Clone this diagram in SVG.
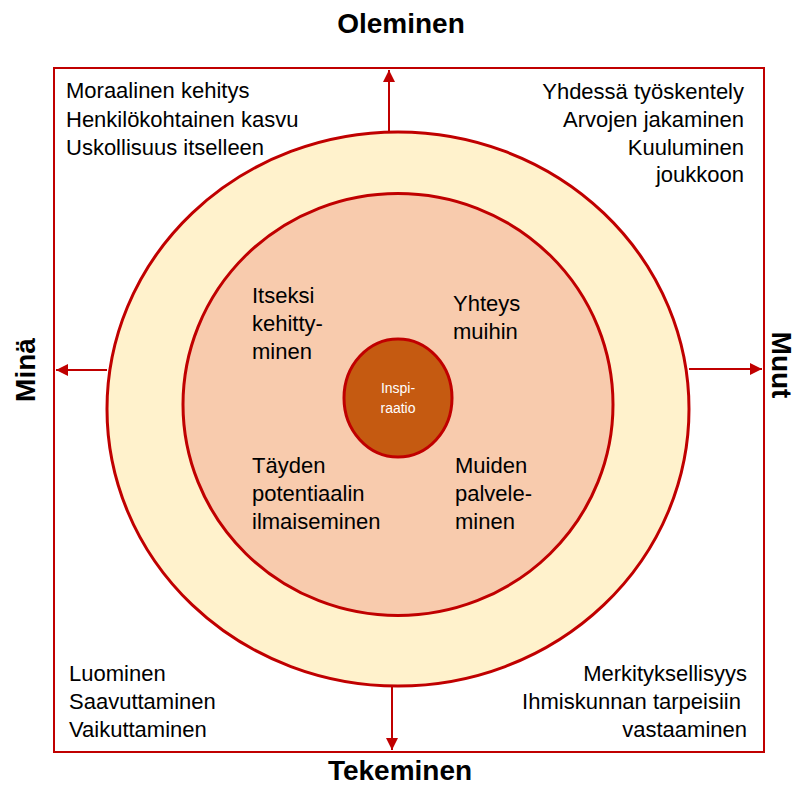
<svg xmlns="http://www.w3.org/2000/svg" width="798" height="787" viewBox="0 0 798 787">
<defs>
<style>
.t{font-family:"Liberation Sans",Arial,sans-serif;font-size:22px;fill:#000}
.h{font-family:"Liberation Sans",Arial,sans-serif;font-size:28px;font-weight:bold;fill:#000}
.e{text-anchor:end}
.ln{stroke:#C00000;stroke-width:2;fill:none}
.ring{stroke:#C00000;stroke-width:3}
</style>
<marker id="ah" viewBox="0 0 10 10" refX="10" refY="5" markerWidth="6" markerHeight="6" orient="auto" markerUnits="strokeWidth">
<path d="M0,0 L10,5 L0,10 z" fill="#C00000"/>
</marker>
</defs>
<rect width="798" height="787" fill="#fff"/>
<g id="frame"><rect x="54" y="68" width="710" height="684" class="ln"/></g>
<g id="outer"><ellipse cx="398" cy="409" rx="291" ry="277" fill="#FFF2CC" class="ring"/></g>
<g id="inner"><ellipse cx="398" cy="404.5" rx="215" ry="211" fill="#F8CBAD" class="ring"/></g>
<g id="center"><ellipse cx="398" cy="398" rx="54" ry="59" fill="#C55A11" class="ring"/>
<text x="398" y="393" text-anchor="middle" style="font-family:'Liberation Sans',Arial,sans-serif;font-size:14px;fill:#fff">Inspi-</text>
<text x="398" y="413" text-anchor="middle" style="font-family:'Liberation Sans',Arial,sans-serif;font-size:14px;fill:#fff">raatio</text></g>
<g id="connectors">
<line x1="389" y1="132" x2="389" y2="70" class="ln" marker-end="url(#ah)"/>
<line x1="392" y1="686" x2="392" y2="750" class="ln" marker-end="url(#ah)"/>
<line x1="107" y1="370" x2="56" y2="370" class="ln" marker-end="url(#ah)"/>
<line x1="689" y1="369" x2="762" y2="369" class="ln" marker-end="url(#ah)"/>
</g>
<g id="titles">
<text x="401" y="33" text-anchor="middle" class="h">Oleminen</text>
<text x="400" y="780" text-anchor="middle" class="h">Tekeminen</text>
<text transform="translate(35,370) rotate(-90)" text-anchor="middle" class="h">Minä</text>
<text transform="translate(772,365) rotate(90)" text-anchor="middle" class="h">Muut</text>
</g>
<g id="topleft">
<text x="66" y="98" class="t">Moraalinen kehitys</text>
<text x="66" y="127" class="t">Henkilökohtainen kasvu</text>
<text x="66" y="155" class="t">Uskollisuus itselleen</text>
</g>
<g id="topright">
<text x="744" y="99" class="t e">Yhdessä työskentely</text>
<text x="744" y="127" class="t e">Arvojen jakaminen</text>
<text x="744" y="155" class="t e">Kuuluminen</text>
<text x="744" y="182" class="t e">joukkoon</text>
</g>
<g id="bottomleft">
<text x="69" y="681" class="t">Luominen</text>
<text x="69" y="709" class="t">Saavuttaminen</text>
<text x="69" y="737" class="t">Vaikuttaminen</text>
</g>
<g id="bottomright">
<text x="747" y="681" class="t e">Merkityksellisyys</text>
<text x="741" y="709" class="t e">Ihmiskunnan tarpeisiin</text>
<text x="747" y="737" class="t e">vastaaminen</text>
</g>
<g id="q1">
<text x="252" y="303" class="t">Itseksi</text>
<text x="252" y="331" class="t">kehitty-</text>
<text x="252" y="359" class="t">minen</text>
</g>
<g id="q2">
<text x="453" y="311" class="t">Yhteys</text>
<text x="453" y="339" class="t">muihin</text>
</g>
<g id="q3">
<text x="252" y="473" class="t">Täyden</text>
<text x="252" y="501" class="t">potentiaalin</text>
<text x="252" y="529" class="t">ilmaiseminen</text>
</g>
<g id="q4">
<text x="455" y="473" class="t">Muiden</text>
<text x="455" y="501" class="t">palvele-</text>
<text x="455" y="529" class="t">minen</text>
</g>
</svg>
